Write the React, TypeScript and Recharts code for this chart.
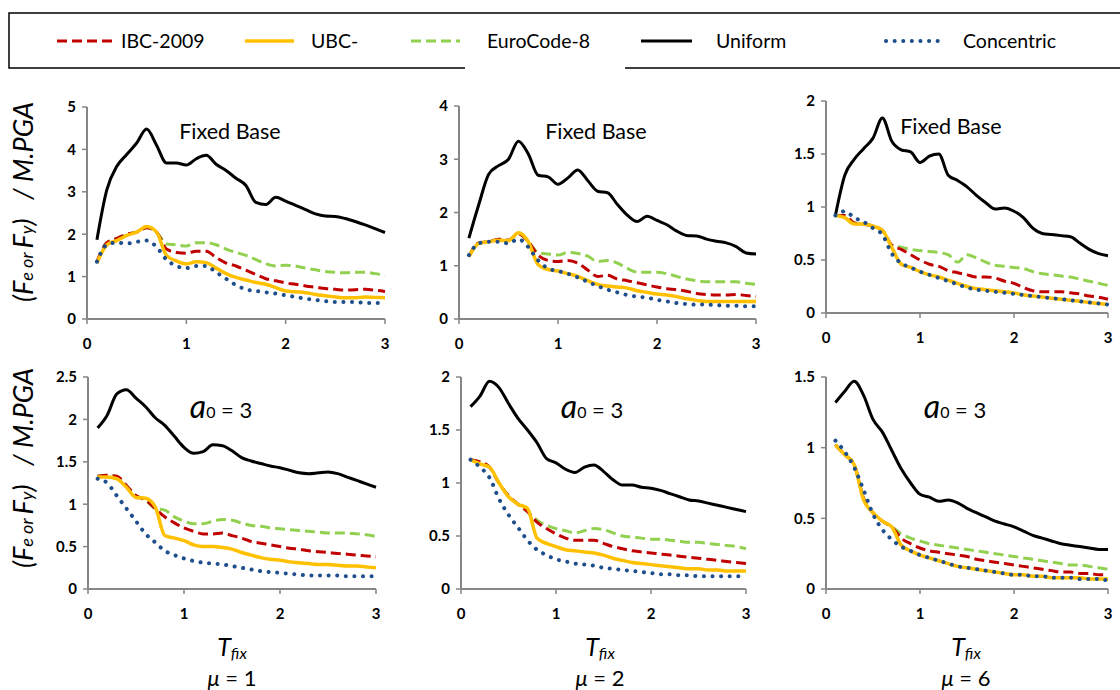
import { LineChart, Line, XAxis, YAxis } from "recharts"

// periods T_fix (s)
const T = [0.1, 0.2, 0.3, 0.4, 0.5, 0.6, 0.7, 0.8, 0.9, 1.0, 1.1, 1.2, 1.3, 1.4, 1.5, 1.6, 1.7, 1.8, 1.9, 2.0, 2.1, 2.2, 2.3, 2.4, 2.5, 2.6, 2.7, 2.8, 2.9, 3.0]

const SERIES = ["IBC-2009", "UBC-", "EuroCode-8", "Uniform", "Concentric"]

// fixed base, mu = 1
const ibcTop1 = [1.35, 1.8, 1.9, 2.0, 2.05, 2.15, 2.05, 1.65, 1.57, 1.55, 1.6, 1.6, 1.45, 1.32, 1.25, 1.15, 1.05, 0.95, 0.9, 0.85, 0.82, 0.78, 0.75, 0.72, 0.7, 0.68, 0.69, 0.7, 0.68, 0.65]
const ubcTop1 = [1.32, 1.75, 1.85, 1.97, 2.05, 2.18, 2.05, 1.5, 1.37, 1.3, 1.35, 1.33, 1.2, 1.07, 0.98, 0.92, 0.86, 0.82, 0.74, 0.66, 0.64, 0.62, 0.58, 0.55, 0.52, 0.5, 0.5, 0.52, 0.51, 0.5]
const euroTop1 = [1.35, 1.8, 1.9, 2.0, 2.05, 2.15, 2.05, 1.77, 1.75, 1.72, 1.8, 1.8, 1.75, 1.65, 1.57, 1.5, 1.4, 1.3, 1.25, 1.27, 1.25, 1.2, 1.16, 1.12, 1.1, 1.09, 1.1, 1.1, 1.07, 1.03]
const uniTop1 = [1.87, 3.05, 3.6, 3.88, 4.15, 4.48, 4.1, 3.68, 3.68, 3.63, 3.78, 3.86, 3.65, 3.5, 3.32, 3.15, 2.75, 2.7, 2.87, 2.78, 2.68, 2.58, 2.48, 2.43, 2.42, 2.37, 2.3, 2.22, 2.13, 2.04]
const concTop1 = [1.35, 1.75, 1.8, 1.78, 1.82, 1.85, 1.7, 1.4, 1.25, 1.2, 1.25, 1.25, 1.1, 0.95, 0.8, 0.7, 0.66, 0.63, 0.6, 0.56, 0.52, 0.48, 0.45, 0.42, 0.4, 0.4, 0.4, 0.38, 0.38, 0.38]

// fixed base, mu = 2
const ibcTop2 = [1.17, 1.43, 1.45, 1.5, 1.48, 1.6, 1.45, 1.2, 1.1, 1.08, 1.1, 1.05, 0.92, 0.8, 0.82, 0.75, 0.72, 0.68, 0.64, 0.6, 0.57, 0.55, 0.52, 0.48, 0.46, 0.45, 0.45, 0.46, 0.44, 0.42]
const ubcTop2 = [1.17, 1.42, 1.45, 1.48, 1.47, 1.62, 1.45, 1.02, 0.93, 0.9, 0.85, 0.8, 0.72, 0.65, 0.62, 0.6, 0.58, 0.53, 0.5, 0.47, 0.45, 0.42, 0.38, 0.35, 0.33, 0.33, 0.33, 0.33, 0.33, 0.33]
const euroTop2 = [1.17, 1.43, 1.45, 1.5, 1.48, 1.6, 1.45, 1.25, 1.22, 1.2, 1.25, 1.23, 1.18, 1.08, 1.1, 1.05, 0.95, 0.88, 0.88, 0.88, 0.85, 0.8, 0.75, 0.72, 0.7, 0.7, 0.7, 0.7, 0.67, 0.65]
const uniTop2 = [1.52, 2.15, 2.72, 2.88, 3.0, 3.34, 3.1, 2.7, 2.67, 2.53, 2.65, 2.8, 2.6, 2.4, 2.37, 2.15, 1.95, 1.83, 1.93, 1.85, 1.77, 1.65, 1.57, 1.56, 1.5, 1.46, 1.43, 1.36, 1.24, 1.22]
const concTop2 = [1.2, 1.42, 1.45, 1.45, 1.42, 1.5, 1.35, 1.1, 0.95, 0.9, 0.85, 0.78, 0.7, 0.62, 0.55, 0.5, 0.45, 0.42, 0.4, 0.36, 0.33, 0.3, 0.28, 0.27, 0.27, 0.26, 0.25, 0.25, 0.24, 0.24]

// fixed base, mu = 6
const ibcTop3 = [0.92, 0.92, 0.85, 0.84, 0.82, 0.78, 0.64, 0.6, 0.55, 0.5, 0.46, 0.44, 0.4, 0.38, 0.36, 0.34, 0.34, 0.33, 0.3, 0.28, 0.24, 0.21, 0.2, 0.2, 0.2, 0.19, 0.18, 0.16, 0.15, 0.13]
const ubcTop3 = [0.92, 0.9, 0.84, 0.84, 0.82, 0.78, 0.62, 0.46, 0.43, 0.39, 0.36, 0.34, 0.31, 0.28, 0.25, 0.23, 0.22, 0.21, 0.2, 0.19, 0.17, 0.16, 0.15, 0.14, 0.13, 0.12, 0.11, 0.1, 0.09, 0.08]
const euroTop3 = [0.92, 0.92, 0.85, 0.84, 0.82, 0.78, 0.64, 0.62, 0.6, 0.59, 0.58, 0.57, 0.55, 0.48, 0.55, 0.52, 0.48, 0.45, 0.44, 0.43, 0.42, 0.39, 0.37, 0.36, 0.35, 0.34, 0.32, 0.3, 0.28, 0.26]
const uniTop3 = [0.92, 1.3, 1.45, 1.55, 1.65, 1.84, 1.62, 1.54, 1.52, 1.42, 1.48, 1.5, 1.3, 1.25, 1.19, 1.11, 1.04, 0.98, 0.99, 0.96, 0.9, 0.8, 0.75, 0.74, 0.73, 0.72, 0.66, 0.6, 0.56, 0.54]
const concTop3 = [0.92, 0.96, 0.9, 0.86, 0.8, 0.74, 0.56, 0.47, 0.43, 0.39, 0.36, 0.33, 0.3, 0.27, 0.24, 0.22, 0.21, 0.2, 0.19, 0.18, 0.17, 0.16, 0.15, 0.14, 0.13, 0.12, 0.11, 0.1, 0.09, 0.08]

// a0 = 3, mu = 1
const ibcBot1 = [1.33, 1.34, 1.33, 1.22, 1.1, 1.05, 0.95, 0.85, 0.78, 0.72, 0.68, 0.65, 0.65, 0.66, 0.63, 0.6, 0.56, 0.54, 0.52, 0.5, 0.48, 0.47, 0.45, 0.44, 0.43, 0.42, 0.41, 0.4, 0.39, 0.38]
const ubcBot1 = [1.32, 1.32, 1.3, 1.2, 1.08, 1.07, 0.97, 0.63, 0.6, 0.57, 0.52, 0.5, 0.5, 0.49, 0.47, 0.43, 0.4, 0.37, 0.35, 0.34, 0.32, 0.31, 0.3, 0.29, 0.29, 0.28, 0.27, 0.27, 0.26, 0.25]
const euroBot1 = [1.33, 1.34, 1.33, 1.22, 1.1, 1.05, 0.95, 0.93, 0.85, 0.8, 0.77, 0.77, 0.8, 0.82, 0.81, 0.78, 0.75, 0.74, 0.72, 0.71, 0.7, 0.69, 0.68, 0.67, 0.66, 0.66, 0.66, 0.65, 0.64, 0.62]
const uniBot1 = [1.9, 2.05, 2.3, 2.35, 2.25, 2.15, 2.02, 1.93, 1.8, 1.67, 1.6, 1.62, 1.7, 1.69, 1.63, 1.55, 1.51, 1.48, 1.45, 1.43, 1.4, 1.37, 1.36, 1.37, 1.38, 1.36, 1.32, 1.28, 1.24, 1.2]
const concBot1 = [1.3, 1.25, 1.1, 0.95, 0.8, 0.65, 0.55, 0.45, 0.4, 0.36, 0.33, 0.31, 0.3, 0.29, 0.27, 0.25, 0.23, 0.21, 0.2, 0.19, 0.18, 0.17, 0.16, 0.16, 0.16, 0.16, 0.15, 0.15, 0.15, 0.15]

// a0 = 3, mu = 2
const ibcBot2 = [1.22, 1.2, 1.15, 1.0, 0.88, 0.8, 0.73, 0.63, 0.57, 0.52, 0.48, 0.46, 0.46, 0.46, 0.43, 0.4, 0.38, 0.36, 0.35, 0.34, 0.33, 0.32, 0.31, 0.3, 0.29, 0.28, 0.27, 0.26, 0.25, 0.24]
const ubcBot2 = [1.22, 1.18, 1.15, 1.0, 0.87, 0.8, 0.76, 0.48, 0.43, 0.4, 0.37, 0.36, 0.35, 0.34, 0.32, 0.29, 0.27, 0.25, 0.24, 0.23, 0.22, 0.21, 0.2, 0.19, 0.19, 0.18, 0.18, 0.17, 0.17, 0.17]
const euroBot2 = [1.22, 1.2, 1.15, 1.0, 0.88, 0.8, 0.73, 0.65, 0.6, 0.57, 0.55, 0.53, 0.55, 0.57, 0.56, 0.53, 0.5, 0.49, 0.48, 0.47, 0.47, 0.46, 0.45, 0.44, 0.44, 0.43, 0.42, 0.41, 0.4, 0.38]
const uniBot2 = [1.72, 1.82, 1.96, 1.9, 1.75, 1.61, 1.5, 1.38, 1.23, 1.19, 1.13, 1.1, 1.15, 1.17, 1.11, 1.03, 0.98, 0.98, 0.96, 0.95, 0.93, 0.9, 0.87, 0.84, 0.83, 0.81, 0.79, 0.77, 0.75, 0.73]
const concBot2 = [1.22, 1.15, 1.05, 0.85, 0.7, 0.58, 0.46, 0.37, 0.32, 0.28, 0.26, 0.24, 0.23, 0.22, 0.2, 0.19, 0.18, 0.17, 0.16, 0.15, 0.14, 0.14, 0.13, 0.13, 0.12, 0.12, 0.12, 0.12, 0.12, 0.12]

// a0 = 3, mu = 6
const ibcBot3 = [1.02, 0.95, 0.88, 0.64, 0.54, 0.48, 0.44, 0.36, 0.32, 0.29, 0.27, 0.26, 0.25, 0.24, 0.23, 0.21, 0.2, 0.19, 0.18, 0.17, 0.16, 0.15, 0.14, 0.13, 0.12, 0.12, 0.11, 0.11, 0.1, 0.1]
const ubcBot3 = [1.02, 0.95, 0.88, 0.63, 0.54, 0.48, 0.44, 0.31, 0.27, 0.24, 0.22, 0.2, 0.18, 0.16, 0.15, 0.14, 0.13, 0.12, 0.11, 0.1, 0.1, 0.09, 0.09, 0.08, 0.08, 0.08, 0.08, 0.07, 0.07, 0.07]
const euroBot3 = [1.02, 0.95, 0.88, 0.64, 0.54, 0.48, 0.44, 0.39, 0.36, 0.34, 0.32, 0.31, 0.3, 0.29, 0.28, 0.27, 0.26, 0.25, 0.24, 0.23, 0.22, 0.21, 0.2, 0.19, 0.18, 0.17, 0.17, 0.16, 0.15, 0.14]
const uniBot3 = [1.32, 1.4, 1.47, 1.37, 1.2, 1.11, 0.98, 0.85, 0.75, 0.67, 0.65, 0.62, 0.63, 0.61, 0.57, 0.54, 0.51, 0.48, 0.46, 0.44, 0.41, 0.38, 0.36, 0.34, 0.32, 0.31, 0.3, 0.29, 0.28, 0.28]
const concBot3 = [1.05, 0.97, 0.86, 0.7, 0.53, 0.42, 0.35, 0.3, 0.27, 0.24, 0.22, 0.2, 0.18, 0.16, 0.15, 0.14, 0.13, 0.12, 0.11, 0.1, 0.1, 0.09, 0.09, 0.08, 0.08, 0.08, 0.07, 0.07, 0.07, 0.06]

const xTicks = [0, 1, 2, 3]

const FONT = "Lato, 'Open Sans', sans-serif"
const AXIS = "#868686"

const STYLES = {
  euro: { stroke: "#92D050", strokeWidth: 3, strokeDasharray: "10 5" },
  ibc: { stroke: "#C00000", strokeWidth: 3, strokeDasharray: "10 5" },
  ubc: { stroke: "#FFC000", strokeWidth: 3.5 },
  uni: { stroke: "#000000", strokeWidth: 3 },
  conc: { stroke: "#1F4E8C", strokeWidth: 4, strokeDasharray: "0.1 8.5", strokeLinecap: "round" },
}

const panels = [
  { left: 87, top: 107, w: 298, h: 212, max: 5, ticks: [0, 1, 2, 3, 4, 5], s: [ibcTop1, ubcTop1, euroTop1, uniTop1, concTop1] },
  { left: 459, top: 106, w: 297, h: 213, max: 4, ticks: [0, 1, 2, 3, 4], s: [ibcTop2, ubcTop2, euroTop2, uniTop2, concTop2] },
  { left: 826, top: 101, w: 282, h: 212, max: 2, ticks: [0, 0.5, 1, 1.5, 2], s: [ibcTop3, ubcTop3, euroTop3, uniTop3, concTop3] },
  { left: 88, top: 377, w: 288, h: 212, max: 2.5, ticks: [0, 0.5, 1, 1.5, 2, 2.5], s: [ibcBot1, ubcBot1, euroBot1, uniBot1, concBot1] },
  { left: 461, top: 377, w: 285, h: 212, max: 2, ticks: [0, 0.5, 1, 1.5, 2], s: [ibcBot2, ubcBot2, euroBot2, uniBot2, concBot2] },
  { left: 826, top: 377, w: 282, h: 212, max: 1.5, ticks: [0, 0.5, 1, 1.5], s: [ibcBot3, ubcBot3, euroBot3, uniBot3, concBot3] },
]

const tickStyle = { fontSize: 15, fontWeight: 700, fill: "#000", fontFamily: FONT }

function Panel({ p }) {
  const [ibc, ubc, euro, uni, conc] = p.s
  const data = T.map((t, i) => ({ t, ibc: ibc[i], ubc: ubc[i], euro: euro[i], uni: uni[i], conc: conc[i] }))
  const yw = 50
  return (
    <div style={{ position: "absolute", left: p.left - yw, top: p.top - 10 }}>
      <LineChart width={p.w + yw + 14} height={p.h + 10 + 40} data={data} margin={{ top: 10, right: 14, left: 0, bottom: 0 }}>
        <XAxis
          dataKey="t"
          type="number"
          domain={[0, 3]}
          ticks={xTicks}
          height={40}
          tick={tickStyle}
          tickSize={5}
          tickMargin={14}
          axisLine={{ stroke: AXIS, strokeWidth: 2 }}
          tickLine={{ stroke: AXIS, strokeWidth: 1.5 }}
        />
        <YAxis
          type="number"
          domain={[0, p.max]}
          ticks={p.ticks}
          width={yw}
          tick={tickStyle}
          tickSize={5}
          tickMargin={6}
          axisLine={{ stroke: AXIS, strokeWidth: 2 }}
          tickLine={{ stroke: AXIS, strokeWidth: 1.5 }}
        />
        <Line type="monotone" dataKey="euro" dot={false} isAnimationActive={false} {...STYLES.euro} />
        <Line type="monotone" dataKey="ibc" dot={false} isAnimationActive={false} {...STYLES.ibc} />
        <Line type="monotone" dataKey="ubc" dot={false} isAnimationActive={false} {...STYLES.ubc} />
        <Line type="monotone" dataKey="uni" dot={false} isAnimationActive={false} {...STYLES.uni} />
        <Line type="monotone" dataKey="conc" dot={false} isAnimationActive={false} {...STYLES.conc} />
      </LineChart>
    </div>
  )
}

function YLabel({ cy }) {
  return (
    <text transform={`translate(33,${cy}) rotate(-90)`} textAnchor="middle" fontFamily={FONT} fontStyle="italic" fontSize={27} fill="#000" xmlSpace="preserve">
      (F<tspan fontSize={18}>e</tspan>
      <tspan fontSize={18}> or </tspan>F<tspan fontSize={18}>y</tspan>)   / M.PGA
    </text>
  )
}

const legendKeys = ["ibc", "ubc", "euro", "uni", "conc"]
const legendPos = [
  { x1: 57, x2: 112, tx: 121 },
  { x1: 245, x2: 294, tx: 311 },
  { x1: 411, x2: 460, tx: 487 },
  { x1: 641, x2: 692, tx: 716 },
  { x1: 886, x2: 938, tx: 963 },
]

export default function App() {
  return (
    <div style={{ position: "absolute", left: 0, top: 0, width: 1120, height: 690, background: "#fff", overflow: "hidden" }}>
      {panels.map((p, i) => (
        <Panel key={i} p={p} />
      ))}
      <svg width={1120} height={690} style={{ position: "absolute", left: 0, top: 0, pointerEvents: "none" }}>
        {/* legend frame, bottom edge broken under EuroCode-8 */}
        <path d="M1125 13 H9 V68 H465 M625 68 H1125" fill="none" stroke="#000" strokeWidth={1.5} />
        {legendKeys.map((k, i) => (
          <g key={k}>
            <line x1={legendPos[i].x1} x2={legendPos[i].x2} y1={41} y2={41} {...STYLES[k]} />
            <text x={legendPos[i].tx} y={48} fontFamily={FONT} fontSize={19.5} fill="#000">
              {SERIES[i]}
            </text>
          </g>
        ))}

        <YLabel cy={202} />
        <YLabel cy={468} />

        {[230, 596, 951].map((x, i) => (
          <text key={i} x={x} y={i === 2 ? 134 : 139} textAnchor="middle" fontFamily={FONT} fontSize={21.5} fill="#000">
            Fixed Base
          </text>
        ))}
        {[221, 592, 955].map((x, i) => (
          <text key={i} x={x} y={418} textAnchor="middle" fontFamily={FONT} fontSize={22} fill="#000">
            <tspan fontStyle="italic" fontSize={32}>a</tspan>
            <tspan fontSize={16}>0</tspan> = 3
          </text>
        ))}
        {[
          { x: 232, mu: "1" },
          { x: 600, mu: "2" },
          { x: 966, mu: "6" },
        ].map((d, i) => (
          <g key={i}>
            <text x={d.x} y={656} textAnchor="middle" fontFamily={FONT} fontStyle="italic" fill="#000" fontSize={25}>
              T<tspan fontSize={16} dy={3}>fix</tspan>
            </text>
            <text x={d.x} y={686} textAnchor="middle" fontFamily={FONT} fill="#000" fontSize={22}>
              <tspan fontStyle="italic">μ</tspan> = {d.mu}
            </text>
          </g>
        ))}
      </svg>
    </div>
  )
}
